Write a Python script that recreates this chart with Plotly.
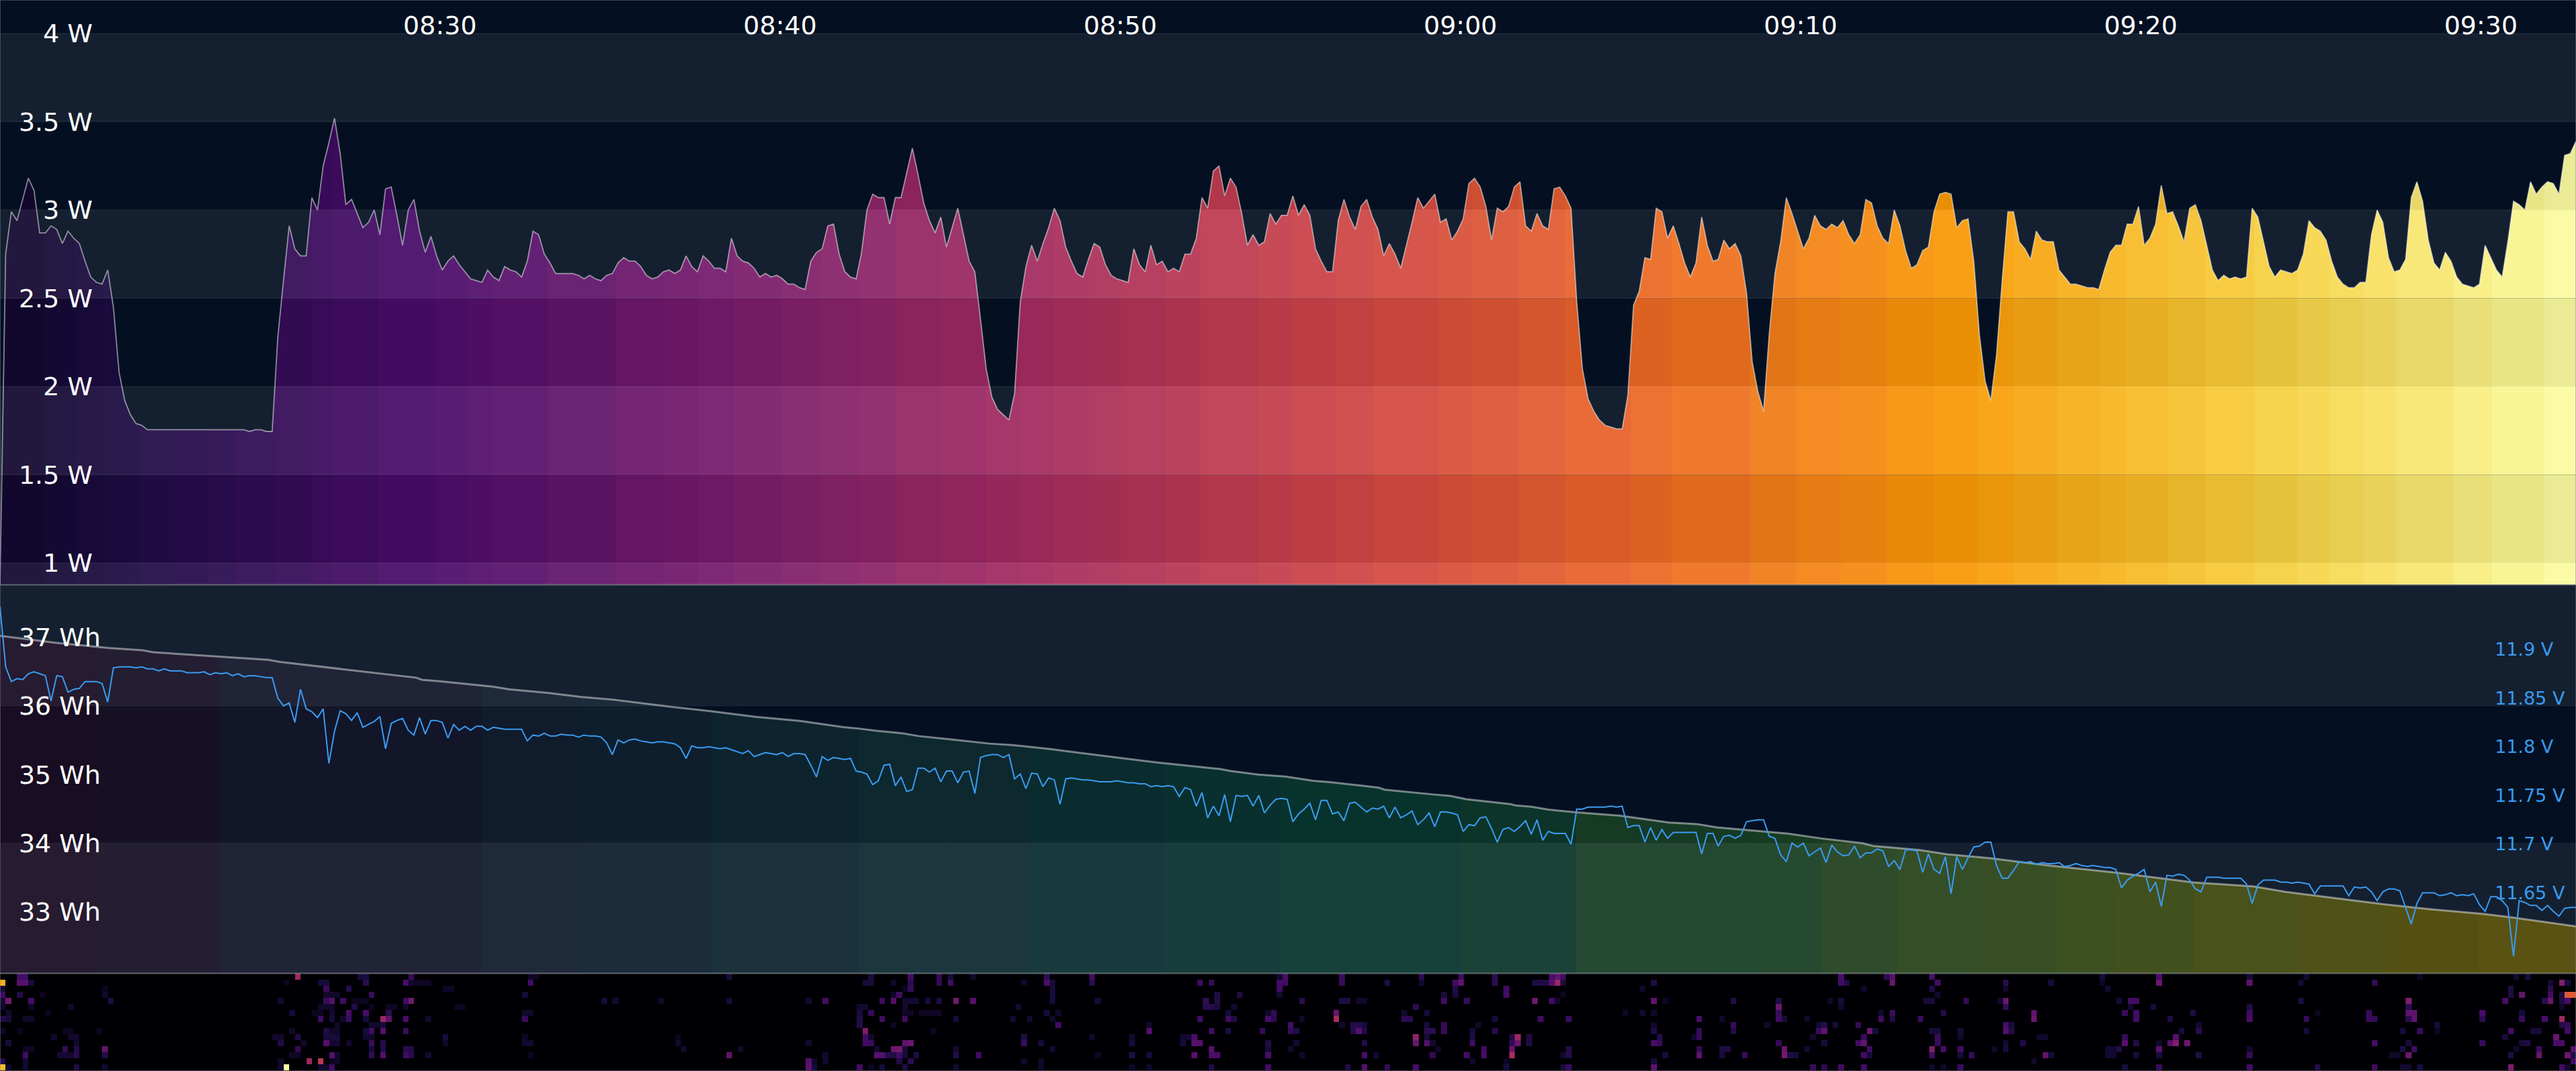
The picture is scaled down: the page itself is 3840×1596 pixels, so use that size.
import numpy as np
import pandas as pd
import plotly.graph_objects as go
from plotly.colors import sample_colorscale

# ---------------- data ----------------
power_a = [0.88,2.75,2.99,2.94,3.06,3.18,3.11,2.87,2.87,2.91,2.89,2.81,2.88,2.84,2.81,2.71,2.62,2.59,2.58,2.66,2.45,2.08,1.92,1.84,1.79,1.78,
1.755,1.755,1.755,1.755,1.755,1.755,1.755,1.755,1.755,1.755,1.755,1.755,1.755,1.755,1.755,1.755,1.755,1.755,1.745,1.755,1.755,1.745,1.745,
2.28,2.60,2.91,2.78,2.74,2.74,3.07,3.00,3.25,3.38,3.52,3.32,3.03,3.06,2.98,2.90,2.93,3.00,2.86,3.12,3.13,2.97,2.80,3.00,3.06,2.88,2.76,2.85,2.74,2.66,2.71,2.74,2.69,2.65,2.61,2.60,2.59,2.66,2.62,2.60,2.68,2.66,2.65,2.62,2.71,2.88,2.86,2.75,2.70,2.64,2.64,2.64,2.64,2.63,2.61,2.63,2.61,2.60,2.63,2.64,2.70,2.73,2.71,2.71,2.68,2.63,2.61,2.62,2.65,2.66,2.64,2.66,2.74,2.68,2.65,2.74,2.71,2.67,2.67,2.65,2.84,2.74,2.71,2.70,2.67,2.62,2.64,2.62,2.63,2.61,2.58,2.58,2.56,2.55,2.71,2.76,2.78,2.91,2.92,2.75,2.65,2.62,2.61]
power_b = [2.75,3.00,3.09,3.07,3.07,2.92,3.07,3.07,3.21,3.35,3.20,3.04,2.94,2.87,2.96,2.79,2.90,3.01,2.86,2.71,2.65,2.38,2.10,1.94,1.87,1.84,1.81,1.96,2.48,2.68,2.80,2.71,2.81,2.90,3.01,2.94,2.79,2.71,2.64,2.62,2.72,2.81,2.79,2.69,2.63,2.61,2.60,2.59,2.78,2.69,2.65,2.80,2.69,2.71,2.65,2.67,2.65,2.75,2.75,2.84,3.07,3.01,3.22,3.25,3.08,3.18,3.13,2.98,2.80,2.86,2.80,2.82,2.98,2.92,2.97,2.97,3.08,2.97,3.03,2.97,2.78,2.71,2.65,2.65,2.94,3.06,2.96,2.89,3.02,3.06,2.96,2.89,2.74,2.81,2.75,2.67,2.80,2.93,3.07,3.01,3.05,3.09,2.93,2.95,2.83,2.88,2.95,3.15,3.18,3.13,3.02,2.83,3.01,2.99,3.02,3.13,3.16,2.91,2.88,2.98,2.91,2.89,3.12,3.13,3.08,3.01,2.48,2.10,1.93,1.86,1.81,1.78,1.77,1.76,1.76,1.95,2.46,2.54,2.73,2.72,3.01,2.99,2.84,2.91,2.81,2.70,2.62,2.70,2.96,2.80,2.71]
power_c = [2.72,2.83,2.78,2.81,2.74,2.53,2.14,1.97,1.86,2.30,2.64,2.82,3.07,2.98,2.88,2.78,2.84,2.97,2.91,2.89,2.92,2.90,2.94,2.86,2.81,2.86,3.06,3.04,2.91,2.84,2.81,3.00,2.91,2.77,2.67,2.69,2.77,2.79,2.99,3.09,3.10,3.09,2.90,2.94,2.95,2.71,2.29,2.03,1.92,2.18,2.60,2.99,2.99,2.82,2.78,2.72,2.88,2.83,2.82,2.82,2.66,2.62,2.58,2.58,2.57,2.56,2.56,2.55,2.66,2.76,2.80,2.80,2.92,2.92,3.02,2.80,2.84,2.92,3.14,2.98,2.99,2.91,2.82,3.01,3.03,2.94,2.80,2.66,2.60,2.63,2.61,2.62,2.61,2.62,3.01,2.96,2.82,2.68,2.62,2.66,2.65,2.64,2.66,2.75,2.94,2.90,2.88,2.83,2.71,2.62,2.58,2.56,2.56,2.59,2.59,2.86,3.00,2.93,2.73,2.65,2.66,2.72,3.07,3.16,3.05,2.83,2.70,2.66,2.76,2.71,2.62,2.58,2.57,2.56,2.58,2.80,2.73,2.66,2.62,2.82,3.05,3.03,3.00,3.16,3.09,3.13,3.16,3.15,3.09,3.31,3.32,3.39]

volt_a = [11.944,11.882,11.867,11.870,11.869,11.875,11.877,11.875,11.873,11.847,11.873,11.872,11.856,11.859,11.860,11.867,11.867,11.867,11.865,11.846,11.881,11.882,11.882,11.882,11.881,11.882,11.880,11.880,11.878,11.880,11.878,11.878,11.878,11.876,11.876,11.876,11.877,11.874,11.876,11.875,11.876,11.873,11.875,11.872,11.873,11.873,11.872,11.871,11.871,11.850,11.842,11.845,11.825,11.859,11.839,11.836,11.830,11.839,11.783,11.816,11.837,11.834,11.827,11.835,11.820,11.823,11.826,11.831,11.798,11.824,11.827,11.829,11.817,11.812,11.830,11.813,11.827,11.827,11.825,11.809,11.823,11.817,11.821,11.817,11.821,11.821,11.817,11.820,11.819,11.818,11.818,11.818,11.818,11.806,11.812,11.811,11.814,11.811,11.811,11.813,11.812,11.812,11.810,11.812,11.811,11.811,11.810,11.804,11.792,11.807,11.804,11.807,11.808,11.806,11.805,11.804,11.805,11.805,11.804,11.803,11.799,11.788,11.801,11.799,11.799,11.800,11.799,11.798,11.799,11.797,11.795,11.793,11.796,11.790,11.792,11.794,11.793,11.792,11.794,11.790,11.793,11.793,11.792,11.781,11.769,11.790,11.786,11.789,11.788,11.787,11.788,11.775]
volt_b = [11.774,11.772,11.761,11.765,11.781,11.782,11.760,11.769,11.754,11.756,11.778,11.778,11.774,11.778,11.764,11.775,11.775,11.763,11.774,11.775,11.752,11.789,11.791,11.792,11.792,11.789,11.792,11.767,11.772,11.757,11.773,11.772,11.759,11.768,11.766,11.741,11.767,11.768,11.767,11.766,11.766,11.765,11.764,11.764,11.764,11.765,11.764,11.763,11.763,11.762,11.762,11.759,11.760,11.759,11.760,11.759,11.749,11.758,11.756,11.739,11.753,11.727,11.739,11.729,11.751,11.723,11.750,11.749,11.750,11.739,11.750,11.732,11.740,11.746,11.747,11.746,11.723,11.731,11.736,11.742,11.725,11.745,11.745,11.731,11.733,11.724,11.742,11.743,11.738,11.733,11.737,11.736,11.739,11.727,11.738,11.727,11.730,11.734,11.720,11.725,11.732,11.718,11.733,11.733,11.732,11.730,11.713,11.720,11.719,11.727,11.728,11.716,11.702,11.715,11.717,11.713,11.718,11.724,11.710,11.725,11.704,11.713,11.711,11.711,11.711,11.700,11.736,11.736,11.738,11.738,11.738,11.738,11.739,11.738,11.739,11.717,11.719,11.719,11.702,11.717,11.704,11.715,11.706,11.712,11.712,11.712,11.712,11.712,11.690,11.711,11.711]
volt_c = [11.698,11.708,11.709,11.706,11.709,11.723,11.724,11.725,11.725,11.708,11.706,11.689,11.682,11.701,11.697,11.701,11.688,11.692,11.696,11.681,11.699,11.692,11.688,11.689,11.698,11.686,11.691,11.691,11.695,11.693,11.677,11.683,11.674,11.694,11.694,11.693,11.671,11.690,11.674,11.670,11.687,11.649,11.687,11.674,11.686,11.697,11.698,11.702,11.702,11.678,11.665,11.665,11.673,11.682,11.681,11.682,11.679,11.681,11.680,11.680,11.681,11.677,11.678,11.680,11.678,11.677,11.678,11.677,11.676,11.676,11.674,11.655,11.663,11.667,11.670,11.674,11.651,11.661,11.636,11.668,11.667,11.669,11.668,11.663,11.654,11.651,11.666,11.666,11.666,11.665,11.665,11.665,11.665,11.659,11.639,11.658,11.663,11.663,11.663,11.661,11.661,11.660,11.661,11.660,11.659,11.649,11.657,11.657,11.657,11.657,11.657,11.647,11.656,11.655,11.656,11.651,11.642,11.651,11.654,11.654,11.652,11.635,11.618,11.639,11.650,11.650,11.650,11.647,11.648,11.650,11.647,11.648,11.647,11.649,11.638,11.631,11.646,11.646,11.642,11.635,11.585,11.642,11.640,11.637,11.637,11.632,11.637,11.631,11.626,11.634,11.635,11.635]

energy_min = [0,1.61,3.22,4.19,4.51,5.80,6.44,7.89,8.21,10.14,10.79,12.24,12.40,12.88,14.49,14.97,16.10,17.07,18.03,19.00,19.64,20.93,22.22,23.51,24.79,25.24,25.72,26.53,27.01,27.98,29.10,29.75,30.88,31.68,32.00,33.29,33.93,35.87,36.19,36.99,37.80,38.60,39.09,40.53,40.70,42.14,42.63,43.11,44.40,44.56,45.04,45.53,46.33,47.62,47.94,49.07,49.87,50.48,51.45,52.57,53.54,54.75,55.07,56.44,57.24,58.53,60.14,61.11,62.23,64.49,66.26,67.22,70.12,71.41,73.02,73.83,75.73]
energy_wh = [37.02,36.92,36.84,36.81,36.78,36.74,36.72,36.67,36.64,36.53,36.49,36.41,36.38,36.36,36.28,36.24,36.19,36.13,36.09,36.03,35.99,35.92,35.84,35.78,35.69,35.67,35.64,35.60,35.56,35.51,35.45,35.43,35.37,35.32,35.30,35.22,35.18,35.08,35.05,35.00,34.97,34.91,34.89,34.81,34.78,34.71,34.69,34.64,34.57,34.55,34.53,34.49,34.45,34.40,34.38,34.30,34.28,34.23,34.19,34.14,34.07,34.00,33.96,33.90,33.84,33.78,33.68,33.63,33.57,33.43,33.37,33.29,33.11,33.04,32.97,32.92,32.79]

# activity cells: one list per row, (column, level)
heat_rows = [
 [(3,.2),(4,.2),(52,.42),(63,.1),(64,.1),(72,.18),(93,.06),(94,.06),(128,.1),(153,.1),(160,.2),(165,.17),(167,.1),(171,.07),(184,.15),(192,.2),(225,.07),(226,.22),(236,.18),(250,.15),(257,.2),(263,.15),(273,.22),(274,.28),(275,.2),(324,.22),(332,.15),(333,.25),(340,.22),(370,.1),(380,.22),(396,.1),(406,.08),(426,.06),(443,.08),(445,.1)],
 [(0,.82),(3,.25),(4,.25),(5,.1),(50,.05),(56,.1),(57,.1),(64,.15),(71,.22),(72,.08),(73,.06),(74,.06),(75,.06),(93,.2),(152,.1),(153,.1),(157,.07),(160,.15),(165,.17),(167,.2),(180,.07),(184,.22),(185,.1),(192,.15),(211,.2),(213,.17),(225,.2),(226,.2),(236,.18),(244,.12),(250,.08),(256,.2),(257,.28),(263,.15),(270,.12),(271,.12),(272,.12),(273,.25),(274,.42),(275,.12),(291,.12),(324,.2),(325,.12),(333,.3),(341,.2),(353,.15),(361,.1),(370,.06),(380,.3),(396,.27),(405,.08),(418,.17),(449,.08),(451,.35),(452,.1)],
 [(0,.1),(18,.05),(57,.18),(61,.14),(78,.06),(79,.06),(159,.05),(160,.17),(185,.1),(225,.2),(256,.12),(265,.2),(289,.07),(328,.07),(340,.13),(353,.07),(371,.08),(442,.12),(449,.15)],
 [(0,.2),(3,.13),(7,.05),(18,.07),(57,.07),(58,.07),(59,.07),(65,.18),(92,.1),(157,.07),(158,.2),(185,.1),(214,.12),(218,.12),(225,.08),(254,.1),(256,.1),(265,.2),(275,.05),(341,.07),(442,.12),(444,.28),(449,.2),(451,.12),(452,.62),(453,.62)],
 [(0,.08),(1,.32),(5,.2),(19,.12),(49,.08),(57,.18),(58,.25),(60,.2),(62,.05),(63,.05),(64,.05),(71,.2),(72,.32),(106,.1),(108,.08),(116,.07),(128,.1),(142,.08),(145,.22),(155,.2),(157,.25),(159,.08),(160,.08),(161,.08),(163,.1),(165,.12),(168,.32),(171,.25),(185,.1),(193,.1),(212,.17),(214,.12),(229,.15),(236,.12),(237,.12),(239,.07),(240,.07),(254,.2),(258,.17),(270,.32),(273,.2),(274,.07),(291,.28),(293,.06),(305,.13),(313,.12),(322,.07),(324,.1),(339,.1),(340,.1),(346,.17),(352,.07),(353,.3),(373,.1),(375,.2),(376,.2),(405,.12),(424,.35),(441,.22),(448,.15),(449,.3),(451,.12),(452,.22)],
 [(0,.07),(5,.06),(12,.07),(56,.07),(57,.07),(58,.07),(62,.12),(65,.05),(68,.06),(69,.06),(71,.07),(80,.05),(81,.05),(151,.08),(152,.08),(159,.08),(179,.08),(212,.14),(213,.14),(214,.1),(217,.08),(249,.15),(313,.3),(324,.07),(353,.17),(375,.08),(379,.1),(396,.12),(424,.15),(451,.08)],
 [(1,.07),(8,.05),(51,.1),(55,.05),(56,.05),(58,.08),(61,.22),(64,.22),(68,.15),(92,.07),(93,.07),(151,.1),(153,.17),(159,.06),(160,.06),(162,.06),(163,.06),(164,.06),(165,.06),(184,.1),(186,.07),(216,.1),(223,.07),(224,.17),(235,.3),(247,.08),(251,.1),(286,.06),(289,.08),(291,.07),(313,.18),(331,.08),(333,.18),(342,.13),(358,.27),(374,.18),(376,.2),(386,.12),(396,.2),(408,.05),(417,.18),(424,.27),(425,.27),(437,.22),(444,.1)],
 [(0,.13),(1,.1),(4,.07),(5,.07),(56,.2),(58,.1),(60,.07),(61,.18),(64,.1),(67,.42),(68,.27),(71,.22),(75,.08),(92,.18),(151,.12),(155,.2),(159,.2),(168,.1),(178,.08),(181,.08),(185,.07),(211,.2),(216,.2),(217,.12),(223,.22),(224,.15),(229,.07),(235,.45),(247,.15),(248,.15),(263,.1),(271,.2),(276,.18),(299,.22),(303,.07),(313,.2),(314,.1),(318,.07),(331,.2),(333,.12),(338,.18),(358,.3),(376,.2),(382,.12),(396,.22),(406,.17),(417,.18),(418,.17),(424,.15),(425,.27),(437,.15),(444,.18),(448,.22),(451,.42)],
 [(59,.07),(65,.07),(66,.07),(67,.1),(151,.13),(157,.06),(186,.2),(202,.07),(227,.2),(236,.07),(238,.13),(239,.13),(240,.1),(251,.1),(254,.17),(260,.07),(291,.07),(305,.18),(311,.07),(320,.08),(321,.14),(323,.1),(327,.17),(353,.22),(354,.1),(387,.08),(429,.1),(451,.13),(452,.17)],
 [(0,.07),(3,.04),(11,.05),(12,.05),(17,.05),(51,.07),(57,.12),(58,.07),(59,.07),(64,.1),(65,.2),(67,.25),(71,.18),(152,.35),(164,.06),(202,.25),(213,.2),(216,.12),(222,.17),(227,.17),(228,.12),(238,.13),(239,.25),(240,.12),(251,.15),(252,.15),(254,.17),(259,.1),(263,.14),(291,.12),(299,.17),(305,.13),(320,.17),(321,.27),(329,.3),(330,.1),(340,.1),(341,.1),(345,.1),(353,.25),(354,.13),(384,.1),(387,.14),(406,.1),(423,.1),(426,.18),(429,.06),(442,.22),(446,.1),(447,.1),(452,.2)],
 [(9,.07),(12,.07),(13,.07),(48,.08),(49,.08),(52,.13),(57,.1),(58,.1),(59,.1),(64,.07),(65,.07),(78,.1),(92,.06),(119,.05),(152,.2),(153,.08),(180,.12),(192,.07),(199,.08),(208,.08),(209,.08),(210,.22),(249,.38),(251,.1),(259,.12),(266,.12),(267,.42),(269,.12),(292,.14),(298,.07),(299,.17),(319,.08),(328,.18),(341,.18),(345,.07),(359,.07),(360,.07),(374,.17),(383,.25),(441,.1),(450,.3)],
 [(1,.1),(13,.07),(49,.12),(53,.07),(57,.25),(58,.08),(59,.08),(61,.07),(65,.18),(67,.13),(78,.07),(92,.08),(93,.08),(119,.08),(142,.08),(152,.2),(153,.18),(159,.27),(160,.3),(180,.18),(183,.1),(199,.1),(208,.1),(210,.25),(211,.25),(223,.12),(228,.08),(240,.12),(249,.3),(251,.25),(252,.08),(259,.2),(266,.17),(267,.3),(269,.12),(291,.22),(292,.18),(313,.17),(321,.1),(327,.2),(328,.28),(341,.18),(353,.08),(356,.12),(374,.25),(376,.12),(380,.07),(382,.25),(383,.35),(385,.3),(418,.22),(424,.1),(437,.18),(444,.1),(445,.12),(450,.22),(451,.22)],
 [(4,.06),(5,.06),(11,.17),(13,.13),(18,.28),(52,.17),(65,.1),(67,.13),(71,.15),(72,.13),(120,.08),(130,.07),(154,.08),(157,.3),(158,.32),(159,.1),(168,.08),(185,.08),(213,.25),(223,.1),(227,.07),(253,.07),(261,.2),(266,.3),(276,.12),(299,.17),(303,.12),(304,.12),(314,.3),(318,.08),(329,.2),(340,.35),(342,.22),(345,.2),(351,.07),(353,.1),(371,.08),(372,.08),(373,.12),(380,.25),(396,.08),(423,.12),(425,.2),(443,.07),(447,.2),(453,.25)],
 [(4,.2),(10,.08),(11,.08),(12,.08),(13,.14),(18,.13),(51,.06),(52,.06),(58,.25),(59,.07),(65,.17),(67,.25),(71,.2),(72,.14),(75,.08),(93,.05),(128,.28),(145,.08),(154,.25),(155,.25),(156,.14),(157,.12),(158,.2),(159,.1),(161,.12),(168,.13),(172,.2),(193,.06),(199,.12),(202,.1),(210,.25),(213,.22),(214,.22),(223,.22),(229,.08),(240,.22),(242,.08),(252,.17),(258,.2),(261,.22),(266,.45),(275,.07),(276,.13),(293,.1),(299,.27),(303,.1),(307,.18),(314,.32),(315,.12),(316,.1),(328,.2),(329,.1),(340,.2),(345,.1),(347,.18),(360,.28),(361,.1),(371,.08),(372,.08),(376,.1),(380,.1),(387,.12),(396,.17),(421,.07),(422,.07),(424,.3),(442,.12),(447,.3),(452,.3),(453,.12)],
 [(0,.13),(4,.08),(49,.07),(54,.42),(56,.5),(58,.06),(59,.06),(142,.25),(143,.07),(145,.07),(158,.12),(160,.15),(180,.07),(183,.07),(259,.07),(265,.06),(291,.1),(358,.07),(453,.2)],
 [(0,.85),(1,.07),(4,.08),(13,.12),(18,.08),(49,.07),(50,1.0),(56,.08),(57,.08),(58,.2),(142,.27),(143,.1),(151,.2),(153,.06),(155,.1),(159,.12),(168,.08),(183,.07),(199,.06),(202,.07),(213,.12),(223,.2),(237,.13),(240,.25),(244,.17),(249,.22),(265,.1),(275,.1),(276,.18),(291,.27),(319,.18),(321,.15),(324,.2),(328,.2),(340,.07),(342,.07),(345,.18),(374,.1),(380,.18),(396,.2),(408,.13),(418,.2),(423,.08),(424,.08),(426,.1),(442,.35),(451,.2),(452,.08)],
]

time_ticks = ["2024-01-01 08:30:00","2024-01-01 08:40:00","2024-01-01 08:50:00","2024-01-01 09:00:00","2024-01-01 09:10:00","2024-01-01 09:20:00","2024-01-01 09:30:00"]
time_labels = ["08:30","08:40","08:50","09:00","09:10","09:20","09:30"]
watt_ticks = [1, 1.5, 2, 2.5, 3, 3.5, 4]
watt_labels = ["1 W", "1.5 W", "2 W", "2.5 W", "3 W", "3.5 W", "4 W"]
wh_ticks = [33, 34, 35, 36, 37]
wh_labels = ["33 Wh", "34 Wh", "35 Wh", "36 Wh", "37 Wh"]
volt_ticks = [11.65, 11.7, 11.75, 11.8, 11.85, 11.9]
volt_labels = ["11.65 V", "11.7 V", "11.75 V", "11.8 V", "11.85 V", "11.9 V"]
start_time = pd.Timestamp("2024-01-01 08:17:04")
span_min = 75.73
n_cols = 454

# ---------------- geometry / style ----------------
W, H = 3840, 1596
BG = "rgb(4,16,33)"
LIGHT = "rgb(20,32,48)"
FONT = "DejaVu Sans"

def to_time(m):
    return start_time + pd.to_timedelta(np.asarray(m, dtype=float), unit="min")

def seg_times(a, b, c):
    return np.concatenate([np.linspace(0.0, 25.17, len(a)),
                           np.linspace(25.32, 50.36, len(b)),
                           np.linspace(50.51, span_min, len(c))])

power = np.array(power_a + power_b + power_c)
volt = np.array(volt_a + volt_b + volt_c)
t_power = to_time(seg_times(power_a, power_b, power_c))
t_volt = to_time(seg_times(volt_a, volt_b, volt_c))
t_energy = to_time(energy_min)

def pxdom(top, bottom):
    return [1 - bottom / H, 1 - top / H]

P_TOP, P_BOT = 1, 871
E_TOP, E_BOT = 872, 1450
Q_TOP, Q_BOT = 1451, 1595
P_RANGE = [0.878, 4.186]
E_RANGE = [32.11, 37.757]
V_RANGE = [11.5676, 11.966]

def y_px(v, rng, top, bot):
    return bot - (v - rng[0]) / (rng[1] - rng[0]) * (bot - top)

zx = lambda off, xs: [off + 0.8163 * v for v in xs]
p_edges = ([0] + zx(0, [80,135,190,235,255,320,380,430,500,570,610,690,795,855,900,1000,1125,1210,1275,1340,1430,1500])
           + zx(1280, [0,68,150,232,295,355,420,480,560,625,730,790,870,940,1060,1120,1205,1290,1410,1485])
           + zx(2560, [60,145,225,310,395,475,540,620,700,745,825,890,980,1060,1120,1180,1240,1345,1415,1510]) + [W])

def parse(c):
    return [float(v) for v in c[c.index("(") + 1:-1].split(",")]

def scale_from(edges, colors):
    out = []
    for i, col in enumerate(colors):
        out.append([edges[i] / W, col])
        out.append([edges[i + 1] / W, col])
    return out

mids = [(p_edges[i] + p_edges[i + 1]) / 2 for i in range(len(p_edges) - 1)]
base = [parse(c) for c in sample_colorscale("Inferno", [0.07 + 0.93 * m / W for m in mids])]
def rgb(c, d=0, k=1.0):
    return "rgb(%d,%d,%d)" % tuple(min(255, max(0, round(v * k + d))) for v in c)
p_dark = scale_from(p_edges, [rgb(c, 0, 0.93) for c in base])
p_light = scale_from(p_edges, [rgb(c, 16, 0.93) for c in base])

e_edges = ([0] + zx(0, [175,400,880,1060,1300]) + zx(1280, [0,310,560,770,1100,1310])
           + zx(2560, [0,65,190,330,480,620,725,870,1055,1220,1390]) + [W])
e_cols = [(38,27,48),(35,30,50),(32,36,54),(30,41,58),(28,44,58),(27,50,60),(27,54,60),(25,58,60),(23,62,60),(22,65,58),(26,66,54),(36,72,50),
          (36,73,50),(38,74,48),(46,76,44),(52,78,40),(56,78,36),(60,80,34),(66,80,30),(72,82,26),(78,82,24),(84,80,20),(90,82,18)]
e_light = scale_from(e_edges, [rgb(c) for c in e_cols])
e_dark = scale_from(e_edges, [rgb(c, -14) for c in e_cols])

fig = go.Figure()
layout = {}

def band_axis(num, lo, hi, rng, top, bot):
    name = "yaxis" if num == 1 else f"yaxis{num}"
    layout[name] = dict(domain=[1 - y_px(lo, rng, top, bot) / H, 1 - y_px(hi, rng, top, bot) / H],
                        range=[lo, hi], visible=False, anchor="x", fixedrange=True)
    return "y" if num == 1 else f"y{num}"

power_bands = [(P_RANGE[0], 1, p_light), (1, 1.5, p_dark), (1.5, 2, p_light), (2, 2.5, p_dark),
               (2.5, 3, p_light), (3, 3.5, p_dark), (3.5, 4, p_light)]
for i, (lo, hi, sc) in enumerate(power_bands, start=1):
    ya = band_axis(i, lo, hi, P_RANGE, P_TOP, P_BOT)
    fig.add_trace(go.Scatter(x=t_power, y=power, xaxis="x", yaxis=ya, mode="lines", line=dict(width=0, simplify=False), fill="tozeroy",
                             fillgradient=dict(type="horizontal", colorscale=sc),
                             hoverinfo="skip", showlegend=False))
fig.add_trace(go.Scatter(x=t_power, y=power, xaxis="x", yaxis="y8", mode="lines",
                         line=dict(color="rgba(255,255,255,0.5)", width=1.8, simplify=False), showlegend=False))
layout["yaxis8"] = dict(domain=pxdom(P_TOP, P_BOT), range=P_RANGE, anchor="free", position=138 / W, side="left",
                        tickmode="array", tickvals=watt_ticks, ticktext=watt_labels, ticklen=0, showline=False,
                        zeroline=False, showgrid=True, gridcolor="rgba(255,255,255,0.05)", gridwidth=2,
                        tickfont=dict(family=FONT, size=38, color="white"), fixedrange=True)

energy_bands = [(E_RANGE[0], 34, e_light), (34, 36, e_dark), (36, E_RANGE[1], e_light)]
for i, (lo, hi, sc) in enumerate(energy_bands, start=9):
    ya = band_axis(i, lo, hi, E_RANGE, E_TOP, E_BOT)
    fig.add_trace(go.Scatter(x=t_energy, y=energy_wh, xaxis="x", yaxis=ya, mode="lines", line=dict(width=0), fill="tozeroy",
                             fillgradient=dict(type="horizontal", colorscale=sc),
                             hoverinfo="skip", showlegend=False))
fig.add_trace(go.Scatter(x=t_energy, y=energy_wh, xaxis="x", yaxis="y12", mode="lines",
                         line=dict(color="rgba(255,255,255,0.45)", width=3), showlegend=False))
fig.add_trace(go.Scatter(x=t_volt, y=volt, xaxis="x", yaxis="y13", mode="lines",
                         line=dict(color="#3a9bf0", width=2, simplify=False), showlegend=False))
layout["yaxis12"] = dict(domain=pxdom(E_TOP, E_BOT), range=E_RANGE, anchor="free", position=150 / W, side="left",
                         tickmode="array", tickvals=wh_ticks, ticktext=wh_labels, ticklen=0, showgrid=False, zeroline=False,
                         tickfont=dict(family=FONT, size=38, color="white"), fixedrange=True)
layout["yaxis13"] = dict(overlaying="y12", range=V_RANGE, anchor="free", position=3718 / W, side="right",
                         tickmode="array", tickvals=volt_ticks, ticktext=volt_labels,
                         ticklen=0, showgrid=False, zeroline=False,
                         tickfont=dict(family=FONT, size=27, color="#3a9bf0"), fixedrange=True)

z = np.zeros((16, n_cols))
for r, cells in enumerate(heat_rows):
    for col, val in cells:
        z[r, col] = val
t_cols = to_time((np.arange(n_cols) + 0.5) * span_min / n_cols)
fig.add_trace(go.Heatmap(x=t_cols, y=list(range(16)), z=z, xaxis="x", yaxis="y14", zmin=0, zmax=1,
                         colorscale="Inferno", showscale=False, hoverinfo="skip"))
layout["yaxis14"] = dict(domain=pxdom(Q_TOP, Q_BOT), range=[15.5, -0.5], visible=False, anchor="x", fixedrange=True)

# the time labels sit inside the top band: free x axis placed just under the top edge
layout["xaxis"] = dict(domain=[0, 1], range=[start_time, start_time + pd.Timedelta(minutes=span_min)], type="date",
                       anchor="free", position=1 - 12 / H, side="bottom", tickmode="array", tickvals=time_ticks, ticktext=time_labels,
                       ticks="", ticklen=0, showgrid=False, zeroline=False, showline=False, fixedrange=True,
                       tickfont=dict(family=FONT, size=38, color="white"))

shapes = []
def band(top, bot, color):
    shapes.append(dict(type="rect", xref="paper", yref="paper", x0=0, x1=1, y0=1 - bot / H, y1=1 - top / H,
                       fillcolor=color, line_width=0, layer="below"))
yp = lambda v: y_px(v, P_RANGE, P_TOP, P_BOT)
for lo, hi in [(P_RANGE[0], 1), (1.5, 2), (2.5, 3), (3.5, 4)]:
    band(yp(hi), yp(lo), LIGHT)
ye = lambda v: y_px(v, E_RANGE, E_TOP, E_BOT)
band(E_TOP, ye(36), LIGHT)
band(ye(34), E_BOT, LIGHT)
band(Q_TOP, H, "rgb(3,3,8)")
for v in (36, 34):
    shapes.append(dict(type="line", xref="paper", yref="paper", x0=0, x1=1, y0=1 - ye(v) / H, y1=1 - ye(v) / H,
                       line=dict(color="rgba(255,255,255,0.04)", width=2), layer="above"))
for py in (871.5, 1450.5):
    shapes.append(dict(type="line", xref="paper", yref="paper", x0=0, x1=1, y0=1 - py / H, y1=1 - py / H,
                       line=dict(color="rgba(255,255,255,0.35)", width=2), layer="above"))
shapes.append(dict(type="rect", xref="paper", yref="paper", x0=0, x1=1, y0=0, y1=1,
                   line=dict(color="rgba(120,130,160,0.45)", width=2), fillcolor="rgba(0,0,0,0)", layer="above"))

fig.update_layout(width=W, height=H, margin=dict(l=0, r=0, t=0, b=0, pad=0), paper_bgcolor=BG, plot_bgcolor="rgba(0,0,0,0)",
                  showlegend=False, shapes=shapes, font=dict(family=FONT), hovermode=False, **layout)

fig.write_html("out.html", config={"displayModeBar": False},
               post_script="document.body.style.margin='0';document.body.style.background='rgb(4,16,33)';document.documentElement.style.overflow='hidden';")
